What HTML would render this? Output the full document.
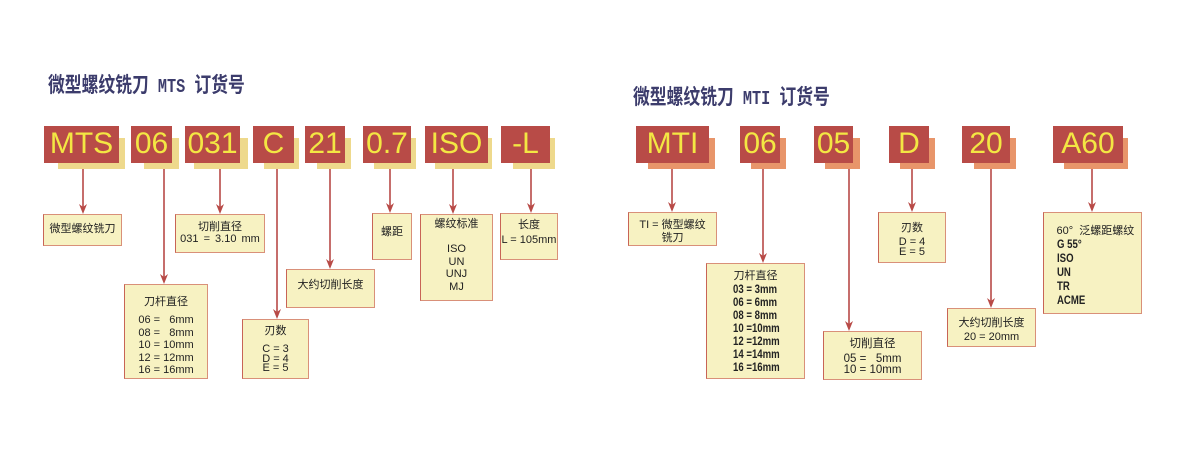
<!DOCTYPE html>
<html><head><meta charset="utf-8">
<style>
html,body{margin:0;padding:0;background:#fff;}
body{width:1198px;height:454px;position:relative;overflow:hidden;font-family:"Liberation Sans","Noto Sans CJK SC",sans-serif;}
.t{position:absolute;font-family:"Noto Sans CJK SC","WenQuanYi Zen Hei",sans-serif;font-weight:bold;font-size:21px;line-height:21px;color:#3c3c6c;white-space:nowrap;transform:scaleX(0.8);transform-origin:0 0;}
.t .m{font-family:"Liberation Mono",monospace;font-size:19px;letter-spacing:0px;}
.sh{position:absolute;top:138px;height:31px;}
.sy{background:#eed98c;}
.so{background:#e8956a;}
.b{position:absolute;top:126px;height:37px;background:#b84b47;color:#f3e743;font-size:30px;line-height:35px;text-align:center;font-family:"Liberation Sans",sans-serif;white-space:nowrap;}
.x{position:absolute;box-sizing:border-box;background:#f7f2c2;border:1.5px solid #d99079;border-left-color:#c86456;font-size:11px;color:#222;text-align:center;white-space:pre;line-height:12px;}
.x div{white-space:pre;}
.bd{font-weight:bold;font-size:12px;text-align:left;transform:scaleX(0.8);transform-origin:0 0;}
svg{position:absolute;left:0;top:0;}
</style></head><body>

<div class="t" style="left:48px;top:74px;">微型螺纹铣刀<span class="m"> MTS </span>订货号</div>
<div class="t" style="left:633px;top:86px;">微型螺纹铣刀<span class="m"> MTI </span>订货号</div>

<!-- left shadows -->
<div class="sh sy" style="left:58px;width:67px;"></div>
<div class="sh sy" style="left:144px;width:35px;"></div>
<div class="sh sy" style="left:194px;width:54px;"></div>
<div class="sh sy" style="left:264px;width:35px;"></div>
<div class="sh sy" style="left:317px;width:34px;"></div>
<div class="sh sy" style="left:374px;width:42px;"></div>
<div class="sh sy" style="left:435px;width:57px;"></div>
<div class="sh sy" style="left:513px;width:42px;"></div>
<!-- left boxes -->
<div class="b" style="left:44px;width:75px;">MTS</div>
<div class="b" style="left:131px;width:41px;">06</div>
<div class="b" style="left:185px;width:55px;">031</div>
<div class="b" style="left:253px;width:41px;">C</div>
<div class="b" style="left:305px;width:40px;">21</div>
<div class="b" style="left:363px;width:48px;">0.7</div>
<div class="b" style="left:425px;width:63px;">ISO</div>
<div class="b" style="left:501px;width:49px;">-L</div>

<!-- right shadows -->
<div class="sh so" style="left:648px;width:67px;"></div>
<div class="sh so" style="left:751px;width:35px;"></div>
<div class="sh so" style="left:825px;width:35px;"></div>
<div class="sh so" style="left:900px;width:35px;"></div>
<div class="sh so" style="left:974px;width:42px;"></div>
<div class="sh so" style="left:1064px;width:64px;"></div>
<!-- right boxes -->
<div class="b" style="left:636px;width:73px;">MTI</div>
<div class="b" style="left:740px;width:40px;">06</div>
<div class="b" style="left:814px;width:39px;">05</div>
<div class="b" style="left:889px;width:40px;">D</div>
<div class="b" style="left:962px;width:48px;">20</div>
<div class="b" style="left:1053px;width:70px;">A60</div>

<svg width="1198" height="454" viewBox="0 0 1198 454">
<g stroke="#b84a47" stroke-width="1.6" fill="none">
<line x1="83" y1="169" x2="83" y2="208"/>
<line x1="164" y1="169" x2="164" y2="278"/>
<line x1="220" y1="169" x2="220" y2="208"/>
<line x1="277" y1="169" x2="277" y2="313"/>
<line x1="330" y1="169" x2="330" y2="263"/>
<line x1="390" y1="169" x2="390" y2="207"/>
<line x1="453" y1="169" x2="453" y2="208"/>
<line x1="531" y1="169" x2="531" y2="207"/>
<line x1="672" y1="169" x2="672" y2="206"/>
<line x1="763" y1="169" x2="763" y2="257"/>
<line x1="849" y1="169" x2="849" y2="325"/>
<line x1="912" y1="169" x2="912" y2="206"/>
<line x1="991" y1="169" x2="991" y2="302"/>
<line x1="1092" y1="169" x2="1092" y2="206"/>
</g>
<g fill="#b84a47">
<path d="M79 204 L83 214 L87 204 L83 207 Z"/>
<path d="M160 274 L164 284 L168 274 L164 277 Z"/>
<path d="M216 204 L220 214 L224 204 L220 207 Z"/>
<path d="M273 309 L277 319 L281 309 L277 312 Z"/>
<path d="M326 259 L330 269 L334 259 L330 262 Z"/>
<path d="M386 203 L390 213 L394 203 L390 206 Z"/>
<path d="M449 204 L453 214 L457 204 L453 207 Z"/>
<path d="M527 203 L531 213 L535 203 L531 206 Z"/>
<path d="M668 202 L672 212 L676 202 L672 205 Z"/>
<path d="M759 253 L763 263 L767 253 L763 256 Z"/>
<path d="M845 321 L849 331 L853 321 L849 324 Z"/>
<path d="M908 202 L912 212 L916 202 L912 205 Z"/>
<path d="M987 298 L991 308 L995 298 L991 301 Z"/>
<path d="M1088 202 L1092 212 L1096 202 L1092 205 Z"/>
</g>
</svg>

<!-- left small boxes -->
<div class="x" style="left:43px;top:214px;width:79px;height:32px;line-height:29px;">微型螺纹铣刀</div>
<div class="x" style="left:175px;top:214px;width:90px;height:39px;padding-top:6px;"><div>切削直径</div><div style="word-spacing:2px;">031 = 3.10 mm</div></div>
<div class="x" style="left:124px;top:284px;width:84px;height:95px;padding-top:11px;"><div style="margin-bottom:6px;">刀杆直径</div><div style="line-height:12.5px;">06 =   6mm
08 =   8mm
10 = 10mm
12 = 12mm
16 = 16mm</div></div>
<div class="x" style="left:242px;top:319px;width:67px;height:60px;padding-top:5px;"><div style="margin-bottom:8px;">刃数</div><div style="line-height:9.5px;">C = 3
D = 4
E = 5</div></div>
<div class="x" style="left:286px;top:269px;width:89px;height:39px;padding-top:8.5px;">大约切削长度</div>
<div class="x" style="left:372px;top:213px;width:40px;height:47px;padding-top:11.5px;">螺距</div>
<div class="x" style="left:420px;top:214px;width:73px;height:87px;padding-top:2.5px;"><div style="margin-bottom:13.5px;">螺纹标准</div><div style="line-height:12.7px;">ISO
UN
UNJ
MJ</div></div>
<div class="x" style="left:500px;top:213px;width:58px;height:47px;padding-top:4.5px;"><div style="margin-bottom:3px;">长度</div><div>L = 105mm</div></div>

<!-- right small boxes -->
<div class="x" style="left:628px;top:212px;width:89px;height:34px;padding-top:6px;line-height:13px;"><div>TI = 微型螺纹</div><div>铣刀</div></div>
<div class="x" style="left:706px;top:263px;width:99px;height:116px;padding-top:5.5px;"><div style="margin-bottom:1.5px;">刀杆直径</div><div class="bd" style="line-height:13px;margin-left:26px;">03 = 3mm
06 = 6mm
08 = 8mm
10 =10mm
12 =12mm
14 =14mm
16 =16mm</div></div>
<div class="x" style="left:823px;top:331px;width:99px;height:49px;padding-top:5.5px;font-size:11.5px;"><div style="margin-bottom:4.5px;">切削直径</div><div style="line-height:11px;">05 =   5mm
10 = 10mm</div></div>
<div class="x" style="left:878px;top:212px;width:68px;height:51px;padding-top:8.5px;"><div style="margin-bottom:3px;">刃数</div><div style="line-height:10px;">D = 4
E = 5</div></div>
<div class="x" style="left:947px;top:308px;width:89px;height:39px;padding-top:7.5px;"><div style="margin-bottom:2px;">大约切削长度</div><div>20 = 20mm</div></div>
<div class="x" style="left:1043px;top:212px;width:99px;height:102px;padding-top:11.5px;text-align:left;"><div style="margin-left:12.5px;">60°  泛螺距螺纹</div><div class="bd" style="line-height:14px;margin-left:12.5px;">G 55°
ISO
UN
TR
ACME</div></div>

</body></html>
